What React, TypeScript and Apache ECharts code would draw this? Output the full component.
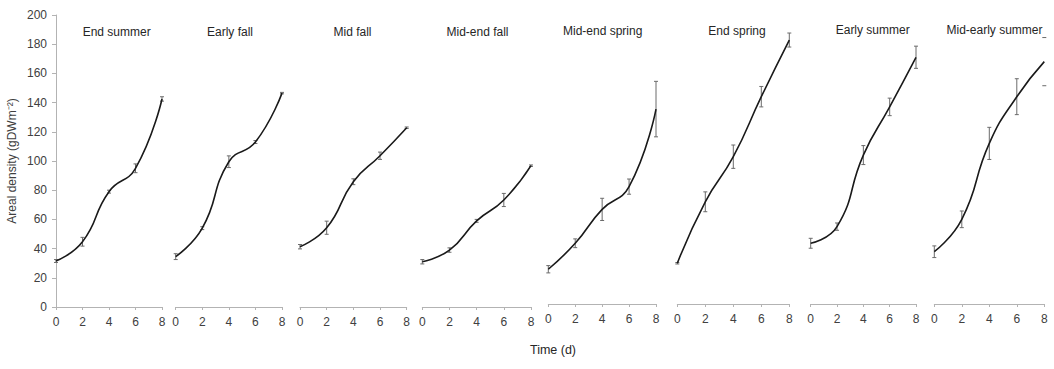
import React, { useEffect, useRef } from 'react';
import * as echarts from 'echarts';

// ---- data ----
const days = [0, 2, 4, 6, 8];
const yTicks = [0, 20, 40, 60, 80, 100, 120, 140, 160, 180, 200];

const panelNames = [
  'End summer',
  'Early fall',
  'Mid fall',
  'Mid-end fall',
  'Mid-end spring',
  'End spring',
  'Early summer',
  'Mid-early summer',
];

const endSummer = [31.5, 44.7, 79, 95, 142.5];
const endSummerErr = [1, 3, 1, 3, 1.5];
const earlyFall = [34.5, 54, 99.5, 113, 146.5];
const earlyFallErr = [2, 1, 4, 1, 0.5];
const midFall = [41.3, 54.3, 85.8, 103.6, 122.8];
const midFallErr = [1.5, 4.5, 2, 2.5, 0.5];
const midEndFall = [31, 39, 59, 73.3, 96.8];
const midEndFallErr = [1.5, 1.5, 1, 4.5, 0.5];
const midEndSpring = [23.8, 41.6, 64.8, 80.4, 133.5];
const midEndSpringErr = [2.5, 3, 7.6, 5.2, 19];
const endSpring = [27.9, 70, 100.9, 142, 180.8];
const endSpringErr = [0.5, 6.8, 8, 7, 4.8];
const earlySummer = [41.6, 53, 102, 135, 169];
const earlySummerErr = [3.4, 2.5, 6.5, 6, 7.6];
const midEarlySummer = [35.8, 58, 110, 142, 166];
const midEarlySummerErr = [4, 5.7, 11, 12.3, 16.5];
// the last error bar of the last panel is cut by the picture's edge: only its caps show
const midEarlySummerStemShown = [true, true, true, true, false];

const panelValues = [endSummer, earlyFall, midFall, midEndFall, midEndSpring, endSpring, earlySummer, midEarlySummer];
const panelErrors = [endSummerErr, earlyFallErr, midFallErr, midEndFallErr, midEndSpringErr, endSpringErr, earlySummerErr, midEarlySummerErr];

// ---- layout (pixels) ----
const panelLeft = [56, 175.7, 300, 422.3, 548.3, 677.3, 810.7, 934.3];
const panelRight = [162, 282, 406.7, 531, 656, 789.3, 916, 1044.3];
const panelTop = [15, 15, 15, 15, 12, 12, 12, 12];
const panelHeight = 292;
const titleX = [116.7, 230, 352.5, 477.5, 602.7, 737, 872.7, 994.5];
const titleY = [32, 32, 32, 32, 31, 31, 29.5, 29.5];

const FONT = '"Liberation Sans", Arial, sans-serif';
const AXIS_COLOR = '#b3b3b3';
const LABEL_COLOR = '#404040';

export default function App() {
  const ref = useRef<HTMLDivElement>(null);

  useEffect(() => {
    if (!ref.current) return;
    const chart = echarts.init(ref.current, undefined, { renderer: 'svg' });

    const grids: any[] = [];
    const xAxes: any[] = [];
    const yAxes: any[] = [];
    const series: any[] = [];
    const graphics: any[] = [];

    panelNames.forEach((name, i) => {
      grids.push({
        left: panelLeft[i],
        top: panelTop[i],
        width: panelRight[i] - panelLeft[i],
        height: panelHeight,
        containLabel: false,
      });
      xAxes.push({
        type: 'value',
        gridIndex: i,
        min: 0,
        max: 8,
        interval: 2,
        axisLine: { show: true, lineStyle: { color: AXIS_COLOR, width: 1 } },
        axisTick: { show: true, length: 3, lineStyle: { color: AXIS_COLOR } },
        axisLabel: { show: true, color: LABEL_COLOR, fontSize: 12, fontFamily: FONT, margin: 9 },
        splitLine: { show: false },
      });
      yAxes.push({
        type: 'value',
        gridIndex: i,
        min: 0,
        max: 200,
        interval: 20,
        show: i === 0,
        name: i === 0 ? 'Areal density (gDWm\u207B\u00B2)' : '',
        nameLocation: 'middle',
        nameRotate: 90,
        nameGap: 38,
        nameTextStyle: { color: LABEL_COLOR, fontSize: 12, fontFamily: FONT },
        axisLine: { show: true, lineStyle: { color: AXIS_COLOR, width: 1 } },
        axisTick: { show: true, length: 4, lineStyle: { color: AXIS_COLOR } },
        axisLabel: {
          color: LABEL_COLOR,
          fontSize: 12,
          fontFamily: FONT,
          margin: 9,
          formatter: (v: number) => (yTicks.includes(v) ? String(v) : ''),
        },
        splitLine: { show: false },
      });

      const vals = panelValues[i];
      const errs = panelErrors[i];
      const stems = i === 7 ? midEarlySummerStemShown : days.map(() => true);

      series.push({
        type: 'custom',
        xAxisIndex: i,
        yAxisIndex: i,
        silent: true,
        z: 1,
        data: days.map((d, j) => [d, vals[j] - errs[j], vals[j] + errs[j], stems[j] ? 1 : 0]),
        renderItem: (params: any, api: any) => {
          const x = api.value(0);
          const lo = api.coord([x, api.value(1)]);
          const hi = api.coord([x, api.value(2)]);
          const hw = 2;
          const style = { stroke: '#6b6b6b', lineWidth: 1 };
          const children: any[] = [
            { type: 'line', shape: { x1: lo[0] - hw, y1: lo[1], x2: lo[0] + hw, y2: lo[1] }, style },
            { type: 'line', shape: { x1: hi[0] - hw, y1: hi[1], x2: hi[0] + hw, y2: hi[1] }, style },
          ];
          if (api.value(3)) {
            children.push({ type: 'line', shape: { x1: lo[0], y1: lo[1], x2: hi[0], y2: hi[1] }, style });
          }
          return { type: 'group', children };
        },
      });

      series.push({
        type: 'line',
        xAxisIndex: i,
        yAxisIndex: i,
        data: days.map((d, j) => [d, vals[j]]),
        smooth: 0.5,
        showSymbol: false,
        symbol: 'none',
        silent: true,
        z: 2,
        lineStyle: { color: '#1a1a1a', width: 1.6 },
      });

      graphics.push({
        type: 'text',
        x: titleX[i],
        y: titleY[i],
        style: {
          text: name,
          font: `12px ${FONT}`,
          fill: '#262626',
          align: 'center',
          verticalAlign: 'middle',
          textAlign: 'center',
          textVerticalAlign: 'middle',
        },
      });
    });

    graphics.push({
      type: 'text',
      x: 553,
      y: 350,
      style: {
        text: 'Time (d)',
        font: `12.5px ${FONT}`,
        fill: '#262626',
        align: 'center',
        verticalAlign: 'middle',
        textAlign: 'center',
        textVerticalAlign: 'middle',
      },
    });

    chart.setOption({
      animation: false,
      backgroundColor: '#ffffff',
      textStyle: { color: LABEL_COLOR, fontFamily: FONT },
      grid: grids,
      xAxis: xAxes,
      yAxis: yAxes,
      series,
      graphic: graphics,
    });

    return () => chart.dispose();
  }, []);

  return (
    <div
      ref={ref}
      style={{ position: 'fixed', left: 0, top: 0, width: 1054, height: 369 }}
    />
  );
}
